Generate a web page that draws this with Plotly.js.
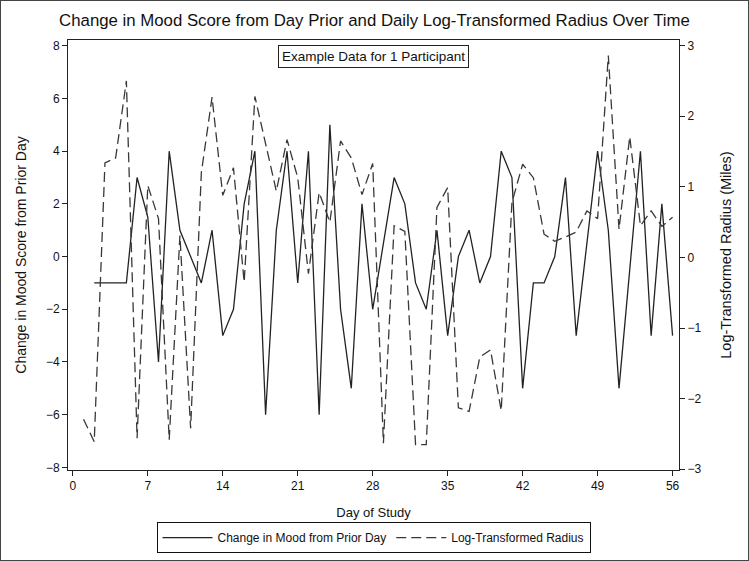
<!DOCTYPE html>
<html>
<head>
<meta charset="utf-8">
<script src="https://cdn.plot.ly/plotly-3.0.1.min.js"></script>
<style>
html,body{margin:0;padding:0;background:#fff;}
#wrap{width:747px;height:559px;border:1px solid #444;overflow:hidden;}
#chart{width:747px;height:559px;}
</style>
</head>
<body>
<div id="wrap"><div id="chart"></div></div>
<script>
// Change in mood from prior day (left axis)
var moodDays = [2,3,4,5,6,7,8,9,10,11,12,13,14,15,16,17,18,19,20,21,22,23,24,25,26,27,28,30,31,32,33,34,35,36,37,38,39,40,41,42,43,44,45,46,47,49,50,51,53,54,55,56];
var moodValues = [-1,-1,-1,-1,3,1.5,-4,4,1,0,-1,1,-3,-2,2,4,-6,1,4,-1,4,-6,5,-2,-5,2,-2,3,2,-1,-2,1,-3,0,1,-1,0,4,3,-5,-1,-1,0,3,-3,4,1,-5,4,-3,2,-3];

// Log-transformed radius (right axis)
var radiusDays = [1,2,3,4,5,6,7,8,9,10,11,12,13,14,15,16,17,19,20,21,22,23,24,25,26,27,28,29,30,31,32,33,34,35,36,37,38,39,40,41,42,43,44,45,46,47,48,49,50,51,52,53,54,55,56];
var radiusValues = [-2.29,-2.61,1.34,1.41,2.5,-2.56,1.02,0.55,-2.58,0.31,-2.42,1.2,2.27,0.88,1.27,-0.35,2.28,0.94,1.67,1.13,-0.23,0.92,0.5,1.65,1.41,0.89,1.33,-2.63,0.45,0.37,-2.65,-2.65,0.71,0.99,-2.13,-2.18,-1.41,-1.31,-2.17,0.78,1.32,1.13,0.33,0.23,0.29,0.36,0.66,0.55,2.86,0.4,1.71,0.45,0.66,0.44,0.57];

var xTicks = [0,7,14,21,28,35,42,49,56];
var leftTicks = [-8,-6,-4,-2,0,2,4,6,8];
var rightTicks = [-3,-2,-1,0,1,2,3];

var titleText = "Change in Mood Score from Day Prior and Daily Log-Transformed Radius Over Time";
var insetText = "Example Data for 1 Participant";
var xTitle = "Day of Study";
var yTitle = "Change in Mood Score from Prior Day";
var y2Title = "Log-Transformed Radius (Miles)";
var moodName = "Change in Mood from Prior Day";
var radiusName = "Log-Transformed Radius";

var FONT = "Liberation Sans, Arial, sans-serif";

var traces = [
  {x: moodDays, y: moodValues, type: 'scatter', mode: 'lines', name: moodName,
   line: {color: '#222', width: 1.3}, yaxis: 'y'},
  {x: radiusDays, y: radiusValues, type: 'scatter', mode: 'lines', name: radiusName,
   line: {color: '#383838', width: 1.3, dash: '10px,5px'}, yaxis: 'y2'}
];

var axisCommon = {showline: true, linecolor: '#222', linewidth: 1, ticks: 'outside', ticklen: 5,
  tickcolor: '#222', showgrid: false, zeroline: false, automargin: false,
  tickfont: {family: FONT, size: 12, color: '#111'}};

var layout = {
  width: 747, height: 559,
  margin: {l: 67, r: 69, t: 39, b: 90},
  paper_bgcolor: '#fff', plot_bgcolor: '#fff',
  font: {family: FONT, color: '#111'},
  title: {text: titleText, x: 0.5, xanchor: 'center', y: 0.965, yanchor: 'middle', font: {family: FONT, size: 16.8, color: '#111'}},
  xaxis: Object.assign({}, axisCommon, {range: [-0.45, 56.6], tickvals: xTicks, mirror: true,
    title: {text: xTitle, font: {family: FONT, size: 13, color: '#111'}, standoff: 15}}),
  yaxis: Object.assign({}, axisCommon, {range: [-8.1, 8.22], tickvals: leftTicks,
    title: {text: yTitle, font: {family: FONT, size: 14, color: '#111'}, standoff: 16}}),
  yaxis2: Object.assign({}, axisCommon, {range: [-3.01, 3.08], tickvals: rightTicks, overlaying: 'y', side: 'right',
    title: {text: y2Title, font: {family: FONT, size: 14.5, color: '#111'}, standoff: 20}}),
  showlegend: true,
  legend: {orientation: 'h', xref: 'paper', x: 0.5, xanchor: 'center', yref: 'container', y: 0.04, yanchor: 'middle',
    bordercolor: '#111', borderwidth: 1, itemwidth: 50, font: {family: FONT, size: 12, color: '#111'},
    bgcolor: '#fff'},
  annotations: [{text: insetText, xref: 'paper', yref: 'paper', x: 0.5, y: 1, xanchor: 'center', yanchor: 'top',
    yshift: -5, showarrow: false, bordercolor: '#222', borderwidth: 1, borderpad: 3, bgcolor: '#fff',
    font: {family: FONT, size: 13.5, color: '#111'}}]
};

Plotly.newPlot('chart', traces, layout, {displayModeBar: false, staticPlot: true});
</script>
</body>
</html>
